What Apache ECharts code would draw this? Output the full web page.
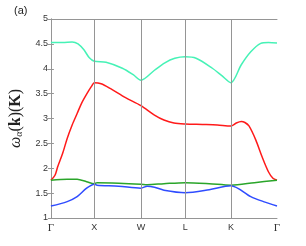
<!DOCTYPE html>
<html><head><meta charset="utf-8">
<script src="https://cdn.jsdelivr.net/npm/echarts@6/dist/echarts.min.js"></script>
<style>html,body{margin:0;padding:0;background:#fff}#c{width:306px;height:246px}</style>
</head><body><div id="c"></div>
<script>
const tickPos = [0, 0.96, 1.99, 2.97, 3.98, 5];
const tickLabels = ['Γ', 'X', 'W', 'L', 'K', 'Γ'];
const cyanBand = [[0,4.53],[0.26,4.53],[0.47,4.54],[0.60,4.50],[0.73,4.38],[0.85,4.22],[0.96,4.15],[1.22,4.13],[1.58,4.01],[1.82,3.88],[1.99,3.77],[2.29,3.97],[2.52,4.12],[2.74,4.21],[2.97,4.24],[3.21,4.21],[3.57,4.01],[3.78,3.86],[3.98,3.72],[4.21,4.08],[4.42,4.34],[4.64,4.51],[4.81,4.53],[5,4.52]];
const redBand = [[0,1.76],[0.09,1.86],[0.15,2.03],[0.26,2.30],[0.36,2.60],[0.47,2.87],[0.58,3.10],[0.68,3.31],[0.79,3.49],[0.90,3.65],[0.96,3.72],[1.11,3.70],[1.32,3.60],[1.65,3.42],[1.99,3.26],[2.29,3.07],[2.50,2.97],[2.72,2.91],[2.97,2.89],[3.35,2.88],[3.68,2.87],[3.98,2.85],[4.10,2.91],[4.21,2.94],[4.29,2.92],[4.38,2.85],[4.53,2.57],[4.67,2.23],[4.81,1.93],[4.91,1.80],[5,1.76]];
const greenBand = [[0,1.76],[0.36,1.78],[0.58,1.78],[0.79,1.73],[0.96,1.69],[1.02,1.71],[1.50,1.70],[1.99,1.68],[2.13,1.67],[2.50,1.69],[2.97,1.71],[3.50,1.69],[3.98,1.66],[4.50,1.71],[5,1.76]];
const blueBand = [[0,1.24],[0.36,1.33],[0.58,1.43],[0.79,1.60],[0.96,1.68],[1.02,1.66],[1.50,1.64],[1.99,1.60],[2.13,1.64],[2.29,1.62],[2.50,1.56],[2.97,1.51],[3.50,1.57],[3.98,1.65],[4.42,1.43],[4.70,1.33],[5,1.24]];

const gray = '#959595';
const chart = echarts.init(document.getElementById('c'), null, {renderer: 'canvas'});
function mk(name, data, color, extra) {
  return Object.assign({
    name, type: 'line', data, smooth: 0.3, symbol: 'none',
    lineStyle: {color, width: 1.5}, itemStyle: {color}, silent: true, animation: false
  }, extra || {});
}
chart.setOption({
  animation: false,
  grid: {left: 43, right: 29, top: 19, bottom: 28},
  graphic: [{type: 'text', left: 14, top: 5, style: {text: '(a)', font: '11px "Liberation Sans"', fill: '#222'}}],
  xAxis: [{
    type: 'value', min: 0, max: 5,
    axisLine: {show: true, lineStyle: {color: gray}},
    axisTick: {show: false},
    splitLine: {show: false},
    axisLabel: {
      customValues: tickPos, color: '#333', fontSize: 9, fontFamily: 'Liberation Sans', margin: 5,
      formatter: function (v) {
        let i = tickPos.findIndex(p => Math.abs(p - v) < 1e-6);
        let t = i >= 0 ? tickLabels[i] : '';
        return t === 'Γ' ? '{g|Γ}' : t;
      },
      rich: {g: {fontFamily: 'Liberation Serif', fontSize: 11, color: '#333'}}
    }
  }, {
    type: 'value', position: 'top', min: 0, max: 5,
    axisLine: {show: true, lineStyle: {color: gray}}, axisTick: {show: false}, axisLabel: {show: false}, splitLine: {show: false}
  }],
  yAxis: [{
    type: 'value', min: 1, max: 5, interval: 0.5,
    axisLine: {show: true, lineStyle: {color: gray}},
    axisTick: {show: true, inside: true, length: 3, lineStyle: {color: gray}},
    splitLine: {show: false},
    axisLabel: {color: '#333', fontSize: 9, fontFamily: 'Liberation Sans', margin: 3},
    name: '{w|ω}{s|α}{p|(}{b|k}{p|)(}{b|K}{p|)}',
    nameLocation: 'middle', nameRotate: 90, nameGap: 15,
    nameTextStyle: {
      rich: {
        w: {fontFamily: 'Liberation Serif', fontStyle: 'italic', fontSize: 16, color: '#222'},
        s: {fontFamily: 'Liberation Serif', fontStyle: 'italic', fontSize: 10, color: '#222', verticalAlign: 'bottom', padding: [7, 0, 0, 0]},
        p: {fontFamily: 'Liberation Serif', fontSize: 16, color: '#222'},
        b: {fontFamily: 'Liberation Serif', fontWeight: 'bold', fontSize: 16, color: '#222'}
      }
    }
  }, {
    type: 'value', position: 'right', min: 1, max: 5, interval: 0.5,
    axisLine: {show: true, lineStyle: {color: gray}},
    axisTick: {show: true, inside: true, length: 3, lineStyle: {color: gray}},
    axisLabel: {show: false}, splitLine: {show: false}
  }],
  series: [
    mk('cyan', cyanBand, '#46f2b6', {
      markLine: {
        silent: true, symbol: 'none', animation: false, label: {show: false},
        lineStyle: {color: gray, width: 1, type: 'solid'},
        data: tickPos.slice(1, 5).map(v => ({xAxis: v}))
      }
    }),
    mk('red', redBand, '#ff1a1a'),
    mk('green', greenBand, '#2aa52a'),
    mk('blue', blueBand, '#2f4cff')
  ]
});
</script></body></html>
